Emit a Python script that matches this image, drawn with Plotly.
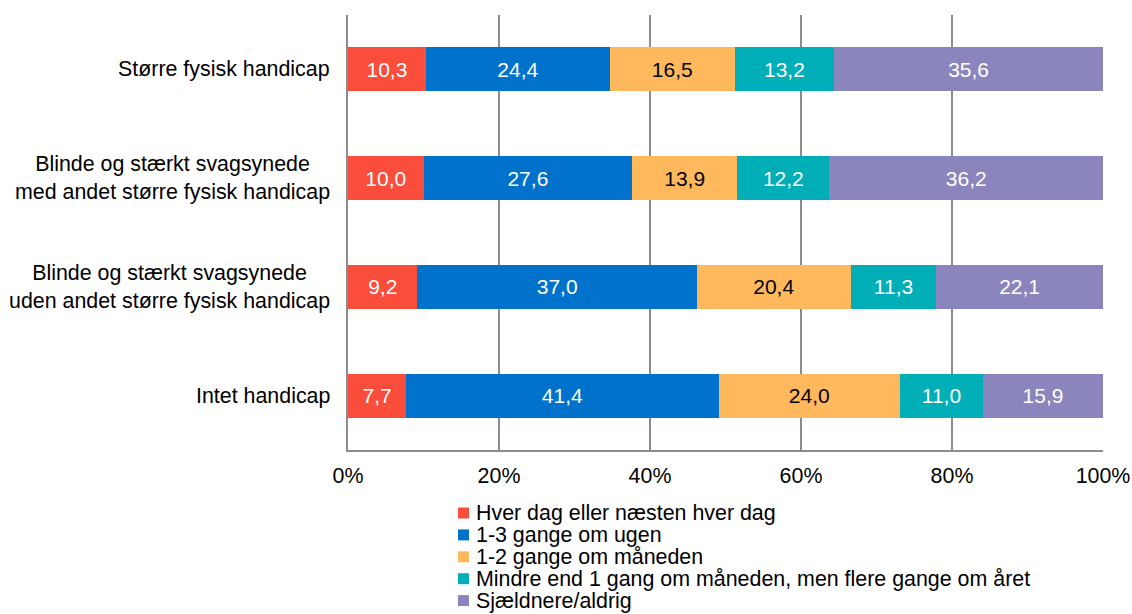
import plotly.graph_objects as go

# Categories (top to bottom)
categories = [
    "Større fysisk handicap",
    "Blinde og stærkt svagsynede<br>med andet større fysisk handicap",
    "Blinde og stærkt svagsynede<br>uden andet større fysisk handicap",
    "Intet handicap",
]

series_names = [
    "Hver dag eller næsten hver dag",
    "1-3 gange om ugen",
    "1-2 gange om måneden",
    "Mindre end 1 gang om måneden, men flere gange om året",
    "Sjældnere/aldrig",
]

daily = [10.3, 10.0, 9.2, 7.7]
weekly = [24.4, 27.6, 37.0, 41.4]
monthly = [16.5, 13.9, 20.4, 24.0]
yearly = [13.2, 12.2, 11.3, 11.0]
rarely = [35.6, 36.2, 22.1, 15.9]

x_ticks = [0, 20, 40, 60, 80, 100]

colors = ["#FA4D3C", "#0072CC", "#FFB85B", "#00AEB8", "#8B85BD"]
text_colors = ["white", "white", "black", "white", "white"]

FONT = "Liberation Sans, Arial, sans-serif"
FS = 21.4

W, H = 1132, 614
ML, MR, MT, MB = 348, 29, 15, 164

fig = go.Figure()
for name, vals, col, tcol in zip(series_names, [daily, weekly, monthly, yearly, rarely], colors, text_colors):
    fig.add_trace(go.Bar(
        y=categories,
        x=vals,
        name=name,
        orientation="h",
        marker=dict(color=col, line=dict(width=0)),
        text=[f"{v:.1f}".replace(".", ",") for v in vals],
        texttemplate="%{text}",
        textposition="inside",
        insidetextanchor="middle",
        textangle=0,
        textfont=dict(family=FONT, size=21, color=tcol),
        showlegend=False,
        hoverinfo="skip",
    ))

# Category labels, centred line by line
for cat in categories:
    fig.add_annotation(
        x=0, xref="paper", y=cat, yref="y",
        xanchor="right", yanchor="middle", xshift=-16,
        text=cat, showarrow=False, align="center",
        font=dict(family=FONT, size=FS, color="black"),
    )

# Legend below the plot
legend_top = 513 - (H - MB)   # pixel offset of first entry below the axis
legend_step = 21.9
for i, (name, col) in enumerate(zip(series_names, colors)):
    yc = -(legend_top + i * legend_step)
    fig.add_shape(
        type="rect", xref="paper", yref="paper",
        xsizemode="pixel", ysizemode="pixel",
        xanchor=0, yanchor=0,
        x0=110, x1=121, y0=yc - 5.5, y1=yc + 5.5,
        fillcolor=col, line=dict(width=0),
    )
    fig.add_annotation(
        x=0, xref="paper", y=0, yref="paper",
        xshift=126, yshift=yc,
        xanchor="left", yanchor="middle",
        text=name, showarrow=False, align="left",
        font=dict(family=FONT, size=FS, color="black"),
    )

fig.update_layout(
    width=W, height=H,
    margin=dict(l=ML, r=MR, t=MT, b=MB, autoexpand=False),
    barmode="stack",
    barnorm="percent",
    bargap=0.595,
    plot_bgcolor="white",
    paper_bgcolor="white",
    font=dict(family=FONT, size=FS, color="black"),
    uniformtext=dict(minsize=17, mode="show"),
    xaxis=dict(
        range=[0, 100],
        tickvals=x_ticks,
        ticktext=[f"{t}%" for t in x_ticks],
        showgrid=True, gridcolor="#8C8C8C", gridwidth=2,
        zeroline=False,
        showline=True, linecolor="#8C8C8C", linewidth=2,
        ticks="", ticklabelstandoff=5,
        tickfont=dict(family=FONT, size=FS, color="black"),
        automargin=False,
        fixedrange=True,
    ),
    yaxis=dict(
        autorange="reversed",
        showticklabels=False,
        showgrid=False,
        zeroline=False,
        showline=True, linecolor="#8C8C8C", linewidth=2,
        ticks="",
        automargin=False,
        fixedrange=True,
    ),
)

fig.write_html("out.html")
